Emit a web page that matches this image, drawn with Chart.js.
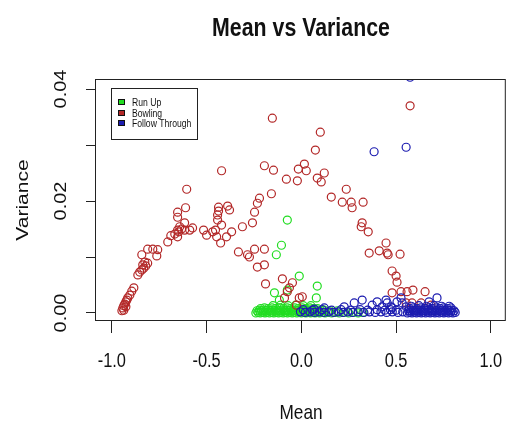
<!DOCTYPE html>
<html>
<head>
<meta charset="utf-8">
<script src="https://cdn.jsdelivr.net/npm/chart.js@4.4.1/dist/chart.umd.min.js"></script>
<style>
  html, body { margin: 0; padding: 0; background: #fff; }
</style>
</head>
<body>
<canvas id="chart" width="511" height="426"></canvas>
<script>
// Run Up (green): scattered points, then the dense band near zero
const runUpMean = [
  -0.074, -0.105, -0.132, -0.011, 0.084, -0.142, -0.074, 0.079, -0.116,
  -0.240, -0.228, -0.217, -0.204, -0.192, -0.181, -0.168, -0.156, -0.145, -0.132,
  -0.120, -0.109, -0.096, -0.084, -0.073, -0.060, -0.048, -0.037, -0.024, -0.012,
  0.000, 0.013, 0.024, 0.036, 0.049, 0.060, 0.072, 0.085, 0.096, 0.110,
  0.125, 0.140, 0.160, 0.180, 0.200, 0.225, 0.250, 0.275, 0.300, 0.325,
  -0.234, -0.222, -0.211, -0.198, -0.186, -0.175, -0.162, -0.150, -0.139, -0.126,
  -0.114, -0.103, -0.090, -0.078, -0.067, -0.054, -0.042, -0.031, -0.018, -0.006,
  0.006, 0.019, 0.030, 0.042, 0.055, 0.066, 0.078, 0.091, 0.105, 0.120,
  0.150, 0.190,
  -0.215, -0.195, -0.175, -0.155, -0.135, -0.115, -0.095, -0.075, -0.055, -0.035,
  -0.015, 0.005, 0.025, 0.045, 0.065, 0.085,
  -0.150, -0.110, -0.070, -0.030, 0.010, 0.050
];
const runUpVar = [
  0.0166, 0.0121, 0.0104, 0.0066, 0.0048, 0.0036, 0.0041, 0.0027, 0.0023,
  0.0000, 0.0001, 0.0000, 0.0001, 0.0000, 0.0001, 0.0000, 0.0001, 0.0000, 0.0001,
  0.0000, 0.0001, 0.0000, 0.0001, 0.0000, 0.0001, 0.0000, 0.0001, 0.0000, 0.0001,
  0.0000, 0.0001, 0.0000, 0.0001, 0.0000, 0.0001, 0.0000, 0.0001, 0.0000, 0.0001,
  0.0000, 0.0001, 0.0000, 0.0001, 0.0000, 0.0001, 0.0000, 0.0001, 0.0000, 0.0001,
  0.0004, 0.0005, 0.0004, 0.0005, 0.0004, 0.0005, 0.0004, 0.0005, 0.0004, 0.0005,
  0.0004, 0.0005, 0.0004, 0.0005, 0.0004, 0.0005, 0.0004, 0.0005, 0.0004, 0.0005,
  0.0004, 0.0005, 0.0004, 0.0005, 0.0004, 0.0005, 0.0004, 0.0005, 0.0004, 0.0005,
  0.0004, 0.0004,
  0.0008, 0.0009, 0.0008, 0.0009, 0.0008, 0.0009, 0.0008, 0.0009, 0.0008, 0.0009,
  0.0008, 0.0009, 0.0008, 0.0009, 0.0008, 0.0008,
  0.0013, 0.0014, 0.0013, 0.0014, 0.0013, 0.0013
];

// Bowling (red)
const bowlingMean = [
  -0.947, -0.942, -0.937, -0.932, -0.926, -0.921, -0.916, -0.905, -0.895, -0.884,
  -0.937, -0.926, -0.863, -0.853, -0.842, -0.832, -0.821, -0.811, -0.826, -0.837,
  -0.842, -0.811, -0.784, -0.758, -0.763, -0.705, -0.689, -0.668, -0.653, -0.642,
  -0.632, -0.647, -0.616, -0.589, -0.574, -0.653, -0.653, -0.653, -0.611, -0.605,
  -0.616, -0.516, -0.500, -0.468, -0.453, -0.442, -0.437, -0.437, -0.442, -0.421,
  -0.447, -0.426, -0.395, -0.368, -0.389, -0.379, -0.421, -0.332, -0.311, -0.284,
  -0.274, -0.247, -0.258, -0.247, -0.232, -0.221, -0.195, -0.147, -0.158, -0.153,
  -0.079, -0.021, -0.016, 0.016, 0.026, 0.084, 0.105, 0.121, 0.100, 0.074,
  0.158, 0.237, 0.216, 0.263, 0.268, 0.326, 0.321, 0.316, 0.353, 0.358,
  0.411, 0.447, 0.453, 0.458, 0.521, 0.479, 0.500, 0.505, 0.479, 0.526,
  0.558, 0.589, 0.653, 0.584, 0.632, 0.684, 0.553, 0.574, -0.195, -0.232,
  -0.195, -0.189, -0.100, -0.047, -0.063, -0.074, -0.089, -0.011, 0.005, -0.026
];
const bowlingVar = [
  0.0004, 0.0009, 0.0013, 0.0016, 0.0020, 0.0023, 0.0027, 0.0032, 0.0039, 0.0045,
  0.0005, 0.0011, 0.0068, 0.0073, 0.0077, 0.0080, 0.0084, 0.0089, 0.0091, 0.0086,
  0.0104, 0.0114, 0.0114, 0.0113, 0.0102, 0.0127, 0.0138, 0.0141, 0.0148, 0.0154,
  0.0150, 0.0145, 0.0148, 0.0148, 0.0152, 0.0136, 0.0171, 0.0180, 0.0188, 0.0221,
  0.0161, 0.0148, 0.0139, 0.0145, 0.0148, 0.0175, 0.0182, 0.0189, 0.0166, 0.0157,
  0.0136, 0.0125, 0.0136, 0.0145, 0.0191, 0.0184, 0.0254, 0.0109, 0.0154, 0.0104,
  0.0100, 0.0114, 0.0161, 0.0180, 0.0196, 0.0205, 0.0263, 0.0255, 0.0213, 0.0348,
  0.0239, 0.0236, 0.0257, 0.0266, 0.0254, 0.0241, 0.0234, 0.0250, 0.0323, 0.0291,
  0.0207, 0.0221, 0.0198, 0.0198, 0.0188, 0.0198, 0.0161, 0.0154, 0.0145, 0.0107,
  0.0111, 0.0125, 0.0107, 0.0104, 0.0105, 0.0075, 0.0066, 0.0055, 0.0036, 0.0038,
  0.0038, 0.0041, 0.0038, 0.0018, 0.0018, 0.0014, 0.0018, 0.0370, 0.0114, 0.0082,
  0.0086, 0.0052, 0.0061, 0.0054, 0.0045, 0.0038, 0.0027, 0.0027, 0.0029, 0.0014
];

// Follow Through (blue): outliers, scattered band, then the dense block on the right
const followMean = [
  0.384, 0.553, 0.574,
  0.226, 0.279, 0.321, 0.374, 0.400, 0.426, 0.453, 0.479, 0.505, 0.526, 0.553,
  0.674, 0.716, 0.447, 0.532, 0.474, 0.068, 0.121,
  -0.005, 0.020, 0.045, 0.070, 0.095, 0.120, 0.145, 0.170, 0.195, 0.220, 0.245,
  0.270, 0.300, 0.330, 0.360, 0.390, 0.420, 0.450, 0.480, 0.510, 0.535,
  0.010, 0.060, 0.110, 0.160, 0.210, 0.260, 0.310, 0.350, 0.400, 0.440, 0.470, 0.500,
  0.560, 0.572, 0.584, 0.597, 0.608, 0.620, 0.633, 0.644, 0.656, 0.669, 0.680,
  0.692, 0.705, 0.716, 0.728, 0.741, 0.752, 0.764, 0.777, 0.788, 0.800, 0.812,
  0.566, 0.578, 0.591, 0.602, 0.614, 0.627, 0.638, 0.650, 0.663, 0.674, 0.686,
  0.699, 0.710, 0.722, 0.735, 0.746, 0.758, 0.771, 0.782, 0.794, 0.806,
  0.570, 0.590, 0.610, 0.630, 0.650, 0.670, 0.690, 0.710, 0.730, 0.750, 0.770, 0.790,
  0.580, 0.620, 0.660, 0.700, 0.740, 0.780
];
const followVar = [
  0.0288, 0.0296, 0.0421,
  0.0011, 0.0018, 0.0023, 0.0014, 0.0020, 0.0011, 0.0018, 0.0009, 0.0020, 0.0027, 0.0011,
  0.0020, 0.0027, 0.0023, 0.0018, 0.0011, 0.0007, 0.0009,
  0.0002, 0.0001, 0.0002, 0.0001, 0.0002, 0.0001, 0.0002, 0.0001, 0.0002, 0.0001, 0.0002,
  0.0001, 0.0002, 0.0001, 0.0002, 0.0001, 0.0002, 0.0001, 0.0002, 0.0001, 0.0002,
  0.0006, 0.0005, 0.0006, 0.0005, 0.0006, 0.0005, 0.0006, 0.0005, 0.0006, 0.0005, 0.0006, 0.0005,
  0.0000, 0.0001, 0.0000, 0.0001, 0.0000, 0.0001, 0.0000, 0.0001, 0.0000, 0.0001, 0.0000,
  0.0001, 0.0000, 0.0001, 0.0000, 0.0001, 0.0000, 0.0001, 0.0000, 0.0001, 0.0000, 0.0001,
  0.0004, 0.0005, 0.0004, 0.0005, 0.0004, 0.0005, 0.0004, 0.0005, 0.0004, 0.0005, 0.0004,
  0.0005, 0.0004, 0.0005, 0.0004, 0.0005, 0.0004, 0.0005, 0.0004, 0.0005, 0.0004,
  0.0008, 0.0009, 0.0008, 0.0009, 0.0008, 0.0009, 0.0008, 0.0009, 0.0008, 0.0009, 0.0008, 0.0009,
  0.0012, 0.0013, 0.0012, 0.0013, 0.0012, 0.0012
];

const xTickValues = [-1.0, -0.5, 0.0, 0.5, 1.0];
const xTickLabels = ["-1.0", "-0.5", "0.0", "0.5", "1.0"];
const yTickValues = [0.00, 0.02, 0.04];
const yTickLabels = ["0.00", "0.02", "0.04"];

const GREEN = "#22dd22";
const RED = "#b32828";
const BLUE = "#1c1cb0";
const INK = "#111";
// the reference picture is squeezed horizontally, text follows that
const SQUEEZE = 0.82;
const FONT = "'Liberation Sans', Arial, sans-serif";

function pts(xs, ys) {
  return xs.map((x, i) => ({ x: x, y: ys[i] }));
}

function squeezedText(ctx, text, x, y, font, opts = {}) {
  ctx.save();
  ctx.translate(x, y);
  ctx.scale(SQUEEZE, 1);
  if (opts.rotate) ctx.rotate(-Math.PI / 2);
  ctx.font = font;
  ctx.fillStyle = INK;
  ctx.textAlign = opts.align || "center";
  ctx.textBaseline = "middle";
  ctx.fillText(text, 0, 0);
  ctx.restore();
}

// R-style box, labels and legend
const rStylePlugin = {
  id: "rStyle",
  afterDraw(chart) {
    const { ctx, chartArea: a, scales: { x, y } } = chart;
    ctx.save();
    ctx.strokeStyle = "#222";
    ctx.lineWidth = 1;
    ctx.strokeRect(a.left + 0.5, a.top + 0.5, a.right - a.left - 1, a.bottom - a.top - 1);
    ctx.restore();

    squeezedText(ctx, "Mean vs Variance", 301, 29, "bold 26px " + FONT);

    xTickValues.forEach((v, i) => {
      squeezedText(ctx, xTickLabels[i], x.getPixelForValue(v), 361, "20px " + FONT);
    });
    yTickValues.forEach((v, i) => {
      squeezedText(ctx, yTickLabels[i], 61, y.getPixelForValue(v), "20px " + FONT, { rotate: true });
    });
    squeezedText(ctx, "Mean", 301, 413, "21px " + FONT);
    squeezedText(ctx, "Variance", 23, 200, "21px " + FONT, { rotate: true });

    // legend
    ctx.save();
    ctx.strokeStyle = "#222";
    ctx.lineWidth = 1;
    ctx.strokeRect(111.5, 88.5, 86, 51);
    const rows = [102, 113, 123];
    chart.data.datasets.forEach((ds, i) => {
      ctx.fillStyle = ds.borderColor;
      ctx.fillRect(118, rows[i] - 3, 7, 6);
      ctx.strokeStyle = "#111";
      ctx.strokeRect(118.5, rows[i] - 2.5, 6, 5);
      squeezedText(ctx, ds.label, 132, rows[i] + 1, "10.5px " + FONT, { align: "left" });
    });
    ctx.restore();
  },
};

function dataset(label, xs, ys, color, order) {
  return {
    label: label,
    data: pts(xs, ys),
    borderColor: color,
    backgroundColor: "rgba(0,0,0,0)",
    pointRadius: 4,
    pointHoverRadius: 4,
    pointBorderWidth: 1.2,
    order: order,
  };
}

new Chart(document.getElementById("chart"), {
  type: "scatter",
  data: {
    datasets: [
      dataset("Run Up", runUpMean, runUpVar, GREEN, 3),
      dataset("Bowling", bowlingMean, bowlingVar, RED, 2),
      dataset("Follow Through", followMean, followVar, BLUE, 1),
    ],
  },
  options: {
    responsive: false,
    animation: false,
    events: [],
    layout: { padding: { left: 86, top: 79, right: 4, bottom: 93 } },
    plugins: { legend: { display: false }, tooltip: { enabled: false } },
    scales: {
      x: {
        type: "linear",
        min: -1.089,
        max: 1.079,
        border: { display: false },
        grid: { drawOnChartArea: false, drawTicks: true, tickLength: 12, color: "#222" },
        ticks: { display: false, stepSize: 0.5, includeBounds: false },
      },
      y: {
        type: "linear",
        min: -0.00143,
        max: 0.04179,
        border: { display: false },
        grid: { drawOnChartArea: false, drawTicks: true, tickLength: 9, color: "#222" },
        ticks: { display: false, stepSize: 0.01, includeBounds: false },
      },
    },
  },
  plugins: [rStylePlugin],
});
</script>
</body>
</html>
